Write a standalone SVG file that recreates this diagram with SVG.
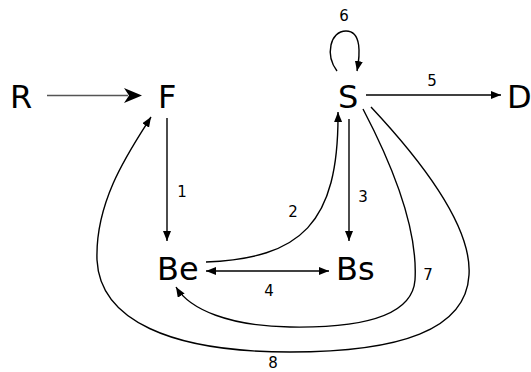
<svg xmlns="http://www.w3.org/2000/svg" width="531" height="372" viewBox="0 0 531 372">
<defs>
<marker id="ah" viewBox="0 0 10 8" refX="10" refY="4" markerWidth="10" markerHeight="8" markerUnits="userSpaceOnUse" orient="auto">
<path d="M0,0 L10,4 L0,8 Z" fill="#000"/>
</marker>
<marker id="ahs" viewBox="0 0 10 8" refX="10" refY="4" markerWidth="10" markerHeight="8" markerUnits="userSpaceOnUse" orient="auto-start-reverse">
<path d="M0,0 L10,4 L0,8 Z" fill="#000"/>
</marker>
</defs>
<style>
.n{font-family:"DejaVu Sans",sans-serif;font-size:32px;fill:#000}
.l{font-family:"DejaVu Sans",sans-serif;font-size:15px;fill:#000;text-anchor:middle}
.e{fill:none;stroke:#000;stroke-width:1.4;marker-end:url(#ah)}
</style>
<rect width="531" height="372" fill="#fff"/>
<g id="R"><text class="n" x="10" y="108">R</text></g>
<g id="F"><text class="n" x="158" y="108">F</text></g>
<g id="S"><text class="n" x="338" y="108">S</text></g>
<g id="D"><text class="n" x="507" y="108">D</text></g>
<g id="Be"><text class="n" x="157" y="280">Be</text></g>
<g id="Bs"><text class="n" x="336" y="280">Bs</text></g>
<g id="connectors">
<line x1="47" y1="95.5" x2="128" y2="95.5" stroke="#555" stroke-width="1.3"/>
<path d="M142,95.5 L124,88 L129,95.5 L124,103 Z" fill="#000"/>
<path class="e" d="M167,118 L167,241"/>
<path class="e" d="M349,119 L349,241"/>
<path class="e" d="M366,95 L501,95"/>
<path class="e" d="M206,262 C300,258 339,225 338,112"/>
<path class="e" d="M206,271 L329,271" style="marker-start:url(#ahs)"/>
<path class="e" d="M337,71 C325,55 330,31 346,31 C362,31 360,55 357,71"/>
<path class="e" d="M363,109 C395,170 418,230 415,280 C412,320 350,328 290,327 C230,326 190,310 176,287"/>
<path class="e" d="M371,107 C430,170 472,230 469,275 C466,330 400,352 290,352 C170,352 100,320 97,260 C95,200 130,150 151,117"/>
</g>
<g id="labels">
<text class="l" x="182" y="197">1</text>
<text class="l" x="293" y="217">2</text>
<text class="l" x="363" y="202">3</text>
<text class="l" x="269" y="296">4</text>
<text class="l" x="432" y="86">5</text>
<text class="l" x="344" y="21">6</text>
<text class="l" x="428" y="280">7</text>
<text class="l" x="273" y="368">8</text>
</g>
</svg>
